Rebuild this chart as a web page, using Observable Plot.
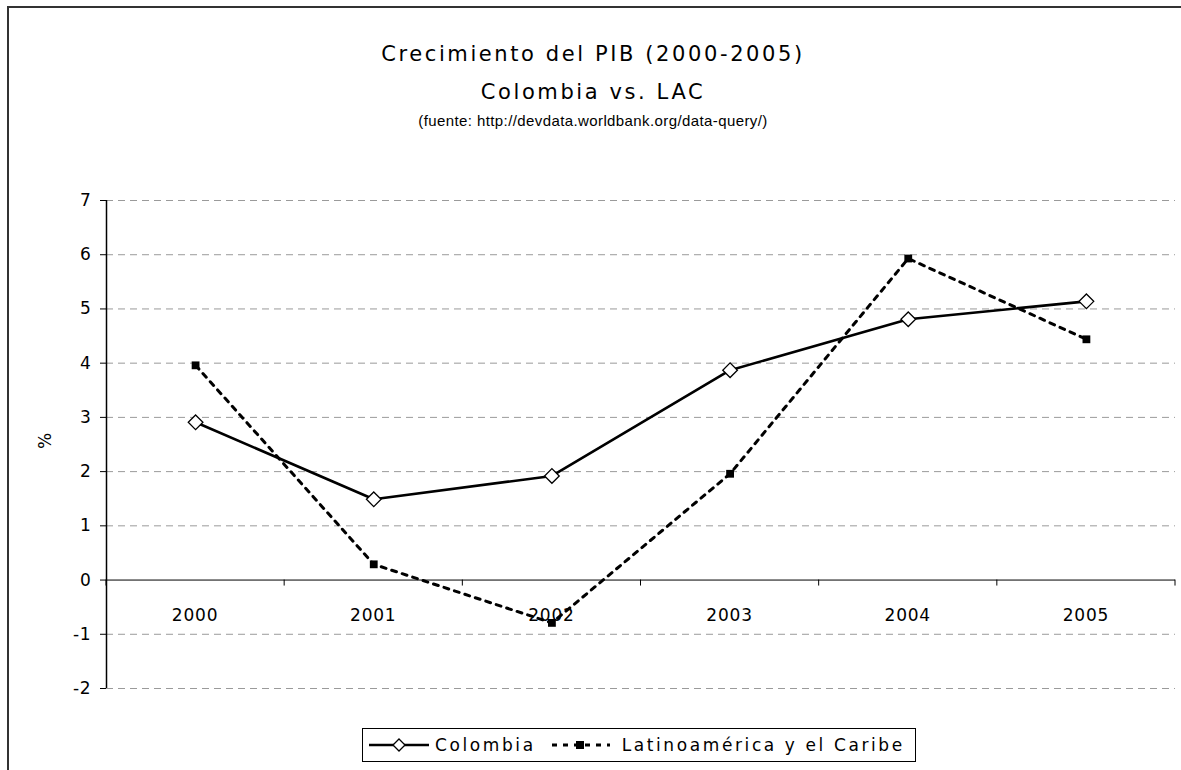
<!DOCTYPE html>
<html>
<head>
<meta charset="utf-8">
<script src="https://cdn.jsdelivr.net/npm/d3@7"></script>
<script src="https://cdn.jsdelivr.net/npm/@observablehq/plot@0.6"></script>
<style>
  html, body { margin: 0; padding: 0; background: #fff; }
  #page { position: relative; width: 1181px; height: 770px; overflow: hidden; font-family: "DejaVu Sans", Verdana, sans-serif; color: #000; }
  #frame { position: absolute; left: 7px; top: 6px; width: 1200px; height: 800px; border-left: 2px solid #333; border-top: 2px solid #333; }
  .t { position: absolute; left: 0; width: 1186px; text-align: center; white-space: nowrap; line-height: 1.15; }
  #t1 { top: 42px; font-size: 21px; letter-spacing: 2.6px; }
  #t2 { top: 80px; font-size: 21px; letter-spacing: 2.6px; }
  #t3 { top: 112px; font-size: 15px; letter-spacing: 0.4px; font-family: "Liberation Sans Narrow", "Liberation Sans", sans-serif; }
  #ylab { position: absolute; left: 37px; top: 431px; font-size: 17px; transform: rotate(-90deg); transform-origin: center; }
  #chart { position: absolute; left: 0; top: 180px; }
  #chart text { letter-spacing: 0.8px; }
  #legend { position: absolute; left: 362px; top: 728px; width: 554px; height: 34px; border: 1px solid #000; box-sizing: border-box; display: flex; align-items: center; font-size: 17px; letter-spacing: 2.6px; }
  #legend svg { display: block; }
</style>
</head>
<body>
<div id="page">
  <div id="frame"></div>
  <div class="t" id="t1">Crecimiento del PIB (2000-2005)</div>
  <div class="t" id="t2">Colombia vs. LAC</div>
  <div class="t" id="t3">(fuente: http://devdata.worldbank.org/data-query/)</div>
  <div id="ylab">%</div>
  <div id="chart"></div>
  <div id="legend"></div>
</div>
<script>
const years = [2000, 2001, 2002, 2003, 2004, 2005];
const colombia = [2.91, 1.49, 1.92, 3.87, 4.81, 5.14];
const lac = [3.96, 0.29, -0.79, 1.96, 5.93, 4.44];
const yTicks = [-2, -1, 0, 1, 2, 3, 4, 5, 6, 7];
const seriesNames = ["Colombia", "Latinoamérica y el Caribe"];

const colData = years.map((y, i) => ({year: y, value: colombia[i]}));
const lacData = years.map((y, i) => ({year: y, value: lac[i]}));
const boundaries = [...years.map(y => y - 0.5), years[years.length - 1] + 0.5];
const xDomain = [boundaries[0], boundaries[boundaries.length - 1]];

// x-axis: band-boundary ticks and labels below the zero line
function xAxisAtZero(index, scales) {
  const g = d3.create("svg:g");
  const y0 = scales.y(0);
  for (const b of boundaries) {
    g.append("line").attr("x1", scales.x(b)).attr("x2", scales.x(b))
      .attr("y1", y0).attr("y2", y0 + 6).attr("stroke", "#000").attr("stroke-width", 1);
  }
  for (const yr of years) {
    g.append("text").attr("x", scales.x(yr)).attr("y", y0 + 41)
      .attr("text-anchor", "middle").attr("font-size", 17)
      .attr("font-family", "DejaVu Sans, sans-serif").attr("fill", "#000")
      .text(String(yr));
  }
  return g.node();
}

const chart = Plot.plot({
  width: 1181,
  height: 520,
  marginTop: 20,
  marginBottom: 12,
  marginLeft: 106,
  marginRight: 6,
  style: {fontFamily: "DejaVu Sans, sans-serif", fontSize: "17px", background: "transparent"},
  x: {domain: xDomain, axis: null},
  y: {domain: [yTicks[0], yTicks[yTicks.length - 1]], axis: null},
  marks: [
    Plot.ruleY(yTicks.filter(d => d !== 0), {stroke: "#9a9a9a", strokeWidth: 1, strokeDasharray: "7,5"}),
    Plot.ruleY([0], {stroke: "#000", strokeWidth: 1}),
    Plot.ruleX([xDomain[0]], {stroke: "#000", strokeWidth: 1.5}),
    Plot.axisY(yTicks, {tickSize: 6, tickPadding: 9, fontSize: 17, tickFormat: d => String(d), label: null}),
    xAxisAtZero,
    Plot.line(colData, {x: "year", y: "value", stroke: "#000", strokeWidth: 2.6}),
    Plot.dot(colData, {x: "year", y: "value", symbol: "diamond2", r: 6.6, fill: "#fff", stroke: "#000", strokeWidth: 1.3}),
    Plot.line(lacData, {x: "year", y: "value", stroke: "#000", strokeWidth: 3, strokeDasharray: "5,6"}),
    Plot.dot(lacData, {x: "year", y: "value", symbol: "square", r: 4.4, fill: "#000", stroke: "none"})
  ]
});
document.getElementById("chart").appendChild(chart);

// legend
const legend = d3.select("#legend");
function swatch(kind, ml) {
  const s = legend.append("svg").attr("width", 62).attr("height", 20).style("margin-left", ml + "px");
  if (kind === 0) {
    s.append("line").attr("x1", 2).attr("x2", 62).attr("y1", 10).attr("y2", 10).attr("stroke", "#000").attr("stroke-width", 2.6);
    s.append("path").attr("d", "M32,4 L38,10 L32,16 L26,10 Z").attr("fill", "#fff").attr("stroke", "#000").attr("stroke-width", 1.3);
  } else {
    s.append("line").attr("x1", 4).attr("x2", 62).attr("y1", 10).attr("y2", 10).attr("stroke", "#000").attr("stroke-width", 3).attr("stroke-dasharray", "5,6");
    s.append("rect").attr("x", 28).attr("y", 6).attr("width", 8).attr("height", 8).attr("fill", "#000");
  }
}
swatch(0, 4);
legend.append("span").text(seriesNames[0]).style("margin-left", "6px");
swatch(1, 12);
legend.append("span").text(seriesNames[1]).style("margin-left", "12px");
</script>
</body>
</html>
